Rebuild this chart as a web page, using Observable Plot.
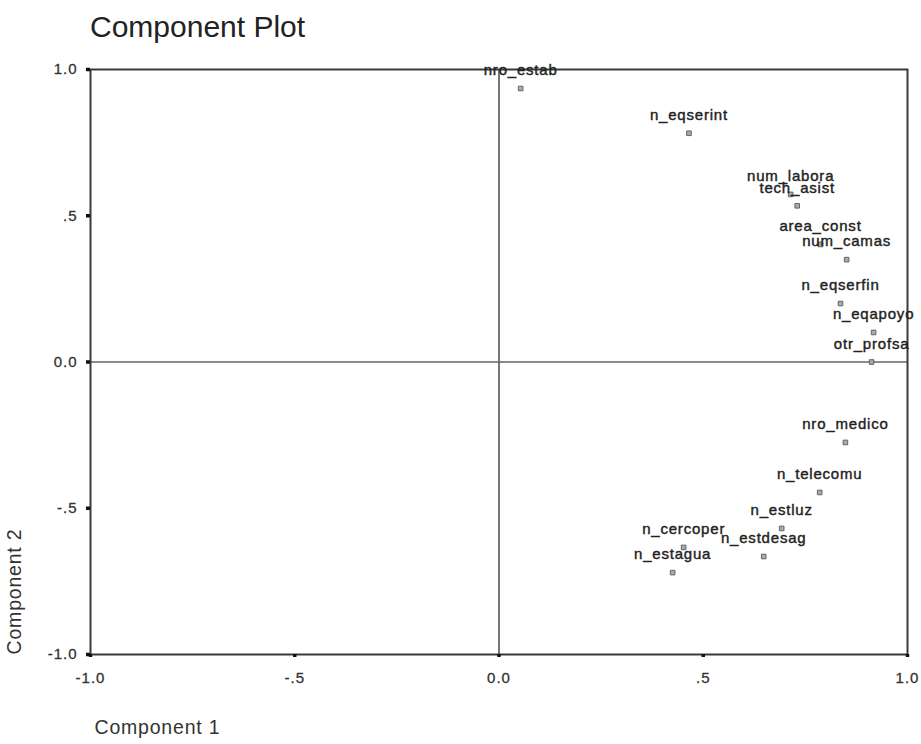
<!DOCTYPE html>
<html>
<head>
<meta charset="utf-8">
<script src="https://cdn.jsdelivr.net/npm/d3@7"></script>
<script src="https://cdn.jsdelivr.net/npm/@observablehq/plot@0.6"></script>
<style>
  body { margin: 0; background: #fff; }
  #title {
    height: 50px; line-height: 54px; padding-left: 90px;
    font-family: "Liberation Sans", Arial, sans-serif; font-size: 30px; color: #222;
    overflow: visible; white-space: nowrap;
  }
  #chart svg g[aria-label="text"] text { letter-spacing: 0.8px; }
  #chart svg g[aria-label^="x-axis tick label"] text,
  #chart svg g[aria-label^="y-axis tick label"] text {
    letter-spacing: 1px; stroke: #333; stroke-width: 0.3px;
  }
</style>
</head>
<body>
<div id="title">Component Plot</div>
<div id="chart"></div>
<script>
// Variable names and their loadings on the two rotated components
const names = [
  "nro_estab", "n_eqserint", "num_labora", "tech_asist", "area_const",
  "num_camas", "n_eqserfin", "n_eqapoyo", "otr_profsa", "nro_medico",
  "n_telecomu", "n_estluz", "n_estdesag", "n_cercoper", "n_estagua"
];
const component1 = [
  0.053, 0.465, 0.714, 0.730, 0.787,
  0.851, 0.836, 0.917, 0.912, 0.848,
  0.785, 0.692, 0.648, 0.452, 0.425
];
const component2 = [
  0.935, 0.782, 0.573, 0.534, 0.402,
  0.350, 0.200, 0.101, 0.000, -0.275,
  -0.446, -0.569, -0.665, -0.634, -0.720
];

// Axis ticks, shared by both components
const tickValues = [-1, -0.5, 0, 0.5, 1];
const tickLabels = ["-1.0", "-.5", "0.0", ".5", "1.0"];

const loadings = names.map((name, i) => ({name, c1: component1[i], c2: component2[i]}));
const fmt = d => tickLabels[tickValues.indexOf(d)] ?? String(d);

const font = "Liberation Sans, Arial, sans-serif";

const chart = Plot.plot({
  width: 921,
  height: 694,
  marginTop: 19,
  marginBottom: 90,
  marginLeft: 90,
  marginRight: 14,
  style: {fontFamily: font, fontSize: "15px", color: "#333", background: "#fff"},
  x: {domain: [-1, 1], axis: null},
  y: {domain: [-1, 1], axis: null},
  marks: [
    Plot.ruleX([0], {stroke: "#555", strokeWidth: 1.6}),
    Plot.ruleY([0], {stroke: "#666", strokeWidth: 1.6}),
    Plot.frame({stroke: "#3a3a3a", strokeWidth: 2}),
    Plot.axisY({
      ticks: tickValues, tickFormat: fmt, tickSize: 4, tickPadding: 9,
      strokeWidth: 3.5, stroke: "#111", fill: "#333", label: null, fontSize: 15
    }),
    Plot.axisX({
      ticks: tickValues, tickFormat: fmt, tickSize: 3, tickPadding: 15,
      strokeWidth: 3.5, stroke: "#111", fill: "#333", label: null, fontSize: 15
    }),
    Plot.dot(loadings, {
      x: "c1", y: "c2", symbol: "square", r: 2.6,
      fill: "#aaa", stroke: "#666", strokeWidth: 1
    }),
    Plot.text(loadings, {
      x: "c1", y: "c2", text: "name", dy: -18,
      fontSize: 15, fill: "#222", stroke: "#222", strokeWidth: 0.4
    }),
    // axis titles
    Plot.text(["Component 1"], {
      frameAnchor: "bottom-left", textAnchor: "start", dx: 4, dy: 79,
      fontSize: 19.5, fill: "#333"
    }),
    Plot.text(["Component 2"], {
      frameAnchor: "bottom-left", textAnchor: "middle", rotate: -90,
      dx: -69.5, dy: -63, fontSize: 19.5, fill: "#333"
    })
  ]
});

document.getElementById("chart").appendChild(chart);
</script>
</body>
</html>
